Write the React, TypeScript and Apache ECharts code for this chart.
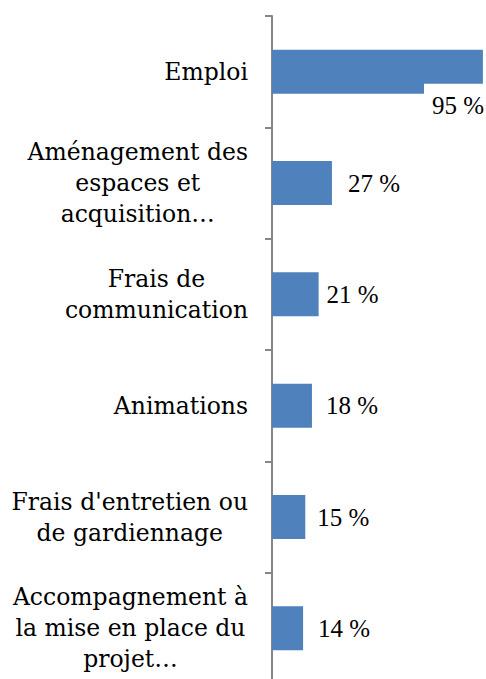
import React, { useEffect, useRef } from "react";
import * as echarts from "echarts";

const categories = [
  "Emploi",
  "Aménagement des\nespaces et\nacquisition…",
  "Frais de\ncommunication",
  "Animations",
  "Frais d'entretien ou\nde gardiennage",
  "Accompagnement à\nla mise en place du\nprojet…",
];
const values = [95, 27, 21, 18, 15, 14];
const labelDistances = [0, 16, 8, 14, 12, 15];

export default function App() {
  const ref = useRef<HTMLDivElement>(null);
  useEffect(() => {
    if (!ref.current) return;
    const chart = echarts.init(ref.current, null, { renderer: "svg" });
    const catFont = "DejaVu Serif";
    const numFont = "Liberation Serif";
    chart.setOption({
      animation: false,
      grid: {
        left: 272,
        top: 16,
        width: 222,
        height: 668,
        containLabel: false,
        outerBoundsMode: "none",
      },
      xAxis: { type: "value", min: 0, max: 100, show: false },
      yAxis: {
        type: "category",
        data: categories,
        inverse: true,
        axisLine: { show: true, lineStyle: { color: "#868686", width: 2 } },
        axisTick: { show: true, length: 7, lineStyle: { color: "#868686", width: 2 } },
        axisLabel: {
          margin: 24,
          align: "right",
          formatter: (v: string) =>
            v
              .split("\n")
              .map((l) => `{c|${l}}`)
              .join("\n"),
          rich: {
            c: {
              align: "center",
              fontFamily: catFont,
              fontSize: 23.5,
              lineHeight: 31,
              color: "#000",
            },
          },
        },
        splitLine: { show: false },
      },
      series: [
        {
          type: "bar",
          barWidth: 44,
          itemStyle: { color: "#4f81bd" },
          data: values.map((v, i) =>
            i === 0
              ? {
                  value: v,
                  label: {
                    show: true,
                    position: [152, 34],
                    align: "left",
                    verticalAlign: "top",
                    backgroundColor: "#fff",
                    padding: [9, 8, 9, 8],
                    lineHeight: 25,
                  },
                }
              : {
                  value: v,
                  label: { show: true, position: "right", distance: labelDistances[i] },
                }
          ),
          label: {
            show: true,
            formatter: (p: any) => `${p.value} %`,
            fontFamily: numFont,
            fontSize: 25,
            color: "#000",
          },
        },
      ],
    });
    return () => chart.dispose();
  }, []);
  return (
    <div
      ref={ref}
      style={{ position: "fixed", left: 0, top: 0, width: 486, height: 679, background: "#fff" }}
    />
  );
}
